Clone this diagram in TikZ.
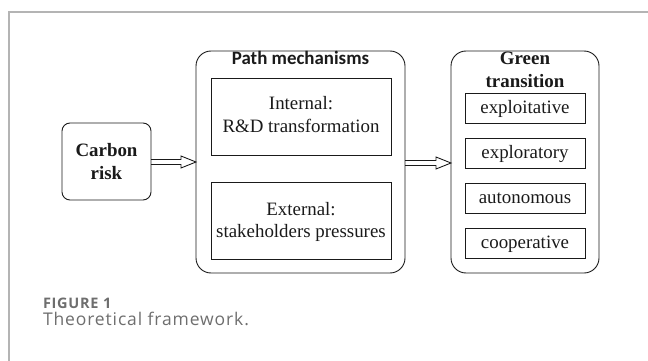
\documentclass[tikz,border=0pt]{standalone}
\usepackage{fontspec}
\setmainfont{Liberation Serif}
\newfontfamily\calib{Carlito}
\newfontfamily\capfont{Open Sans}
\newfontfamily\capfontwide[LetterSpace=5]{Open Sans}
\usetikzlibrary{calc}
\definecolor{framegray}{HTML}{B4B4B4}
\definecolor{capgray}{HTML}{6E6E6E}
\definecolor{ink}{HTML}{1A1A1A}
\begin{document}
\begin{tikzpicture}[x=1pt,y=-1pt,
  every node/.style={inner sep=0pt,outer sep=0pt,text=ink},
  dfont/.style={font=\fontsize{18.9}{22.5}\selectfont},
  outerbox/.style={draw=ink,line width=0.9pt,rounded corners=15pt},
  smallrbox/.style={draw=ink,line width=0.9pt,rounded corners=8pt},
  innerbox/.style={draw=ink,line width=0.9pt},
  arrowline/.style={draw=ink,line width=0.9pt,line join=miter}]
\useasboundingbox (0,0) rectangle (648,361);
% frame
\draw[framegray,line width=2pt] (9,361) -- (9,12) -- (648,12);
% boxes
\node[smallrbox,minimum width=89pt,minimum height=77pt,align=center,font=\fontsize{18.9}{23}\selectfont\bfseries] (carbon) at (106.5,161.5) {Carbon\\risk};
\node[outerbox,minimum width=209pt,minimum height=222pt] (path) at (300.5,162) {};
\node[outerbox,minimum width=148pt,minimum height=222pt] (green) at (525,162) {};
% titles
\node[anchor=base,font=\calib\fontsize{18.9}{22}\selectfont\bfseries] (pathtitle) at (300.5,65) {Path mechanisms};
\node[anchor=base,font=\fontsize{18.9}{22}\selectfont\bfseries] (greentitle1) at (525,65) {Green};
\node[anchor=base,font=\fontsize{18.9}{22}\selectfont\bfseries] (greentitle2) at (525,88) {transition};
% inner boxes
\node[innerbox,minimum width=180pt,minimum height=77pt] (internal) at (301,116.5) {};
\node[anchor=base,dfont] (int1) at (301,110) {Internal:};
\node[anchor=base,dfont] (int2) at (301,132) {R\&D transformation};
\node[innerbox,minimum width=180pt,minimum height=77pt] (external) at (301,220.5) {};
\node[anchor=base,dfont] (ext1) at (301,215) {External:};
\node[anchor=base,dfont] (ext2) at (301,237) {stakeholders pressures};
\foreach \n/\t/\yy in {g1/exploitative/108,g2/exploratory/153,g3/autonomous/198,g4/cooperative/243}{
  \node[innerbox,minimum width=120pt,minimum height=30pt] (\n) at (525,\yy) {};
  \node[anchor=base,dfont] at ($(\n.center)+(0,5.5)$) {\t};
}
% hollow arrows
\draw[arrowline] let \p1=(carbon.east), \p2=(path.west) in
  (\x1,\y1+2) -- (\x2-15,\y1+2) -- (\x2-15,\y1+5.5) -- (\x2,\y1-0.5)
  -- (\x2-15,\y1-6.5) -- (\x2-15,\y1-3) -- (\x1,\y1-3);
\draw[arrowline] let \p1=(path.east), \p2=(green.west) in
  (\x1,\y1+1.5) -- (\x2-15,\y1+1.5) -- (\x2-15,\y1+5) -- (\x2,\y1-1)
  -- (\x2-15,\y1-7) -- (\x2-15,\y1-3.5) -- (\x1,\y1-3.5);
% caption
\node[anchor=base west,text=capgray,font=\capfontwide\fontsize{14.5}{16}\selectfont\bfseries] (figlabel) at (43,308) {FIGURE 1};
\node[anchor=base west,text=capgray,font=\capfontwide\fontsize{17.5}{20}\selectfont] (figcap) at (43,325) {Theoretical framework.};
\end{tikzpicture}
\end{document}
